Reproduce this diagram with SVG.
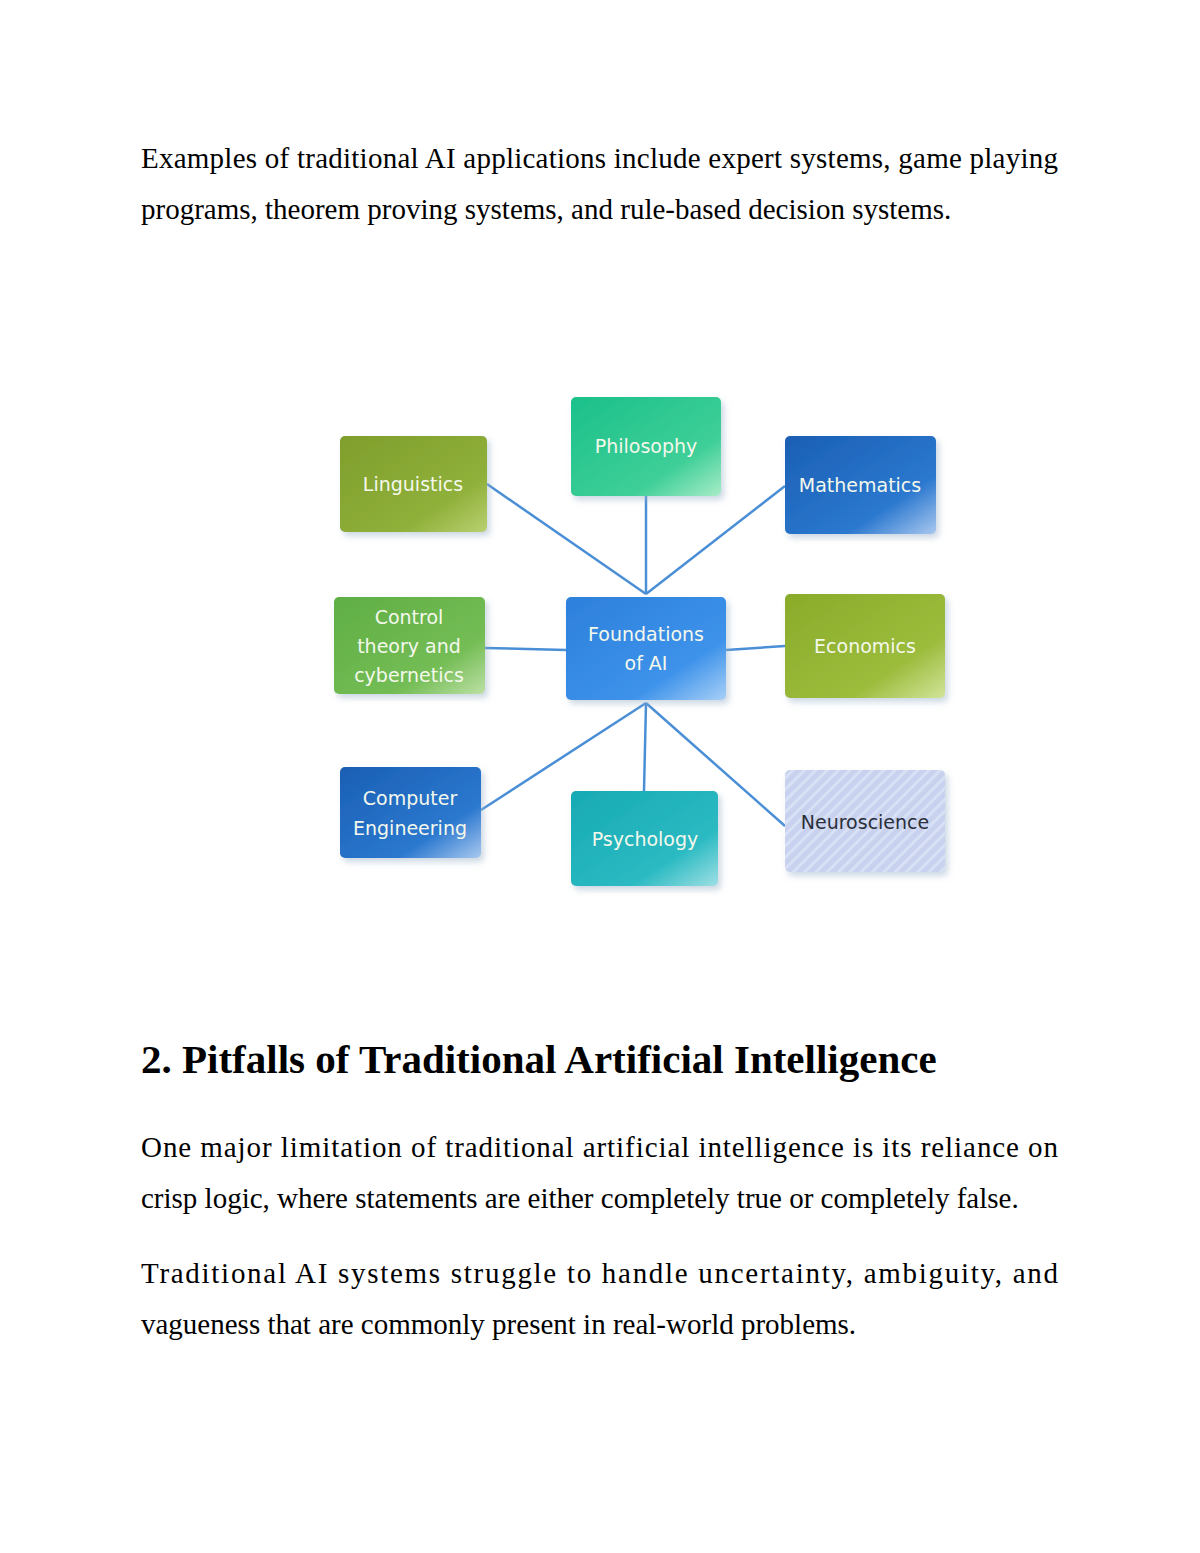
<svg xmlns="http://www.w3.org/2000/svg" width="1200" height="1553" viewBox="0 0 1200 1553">
<style>
.b{font-family:"Liberation Serif",serif;font-size:29px;fill:#000}
.h{font-family:"Liberation Serif",serif;font-size:41px;font-weight:bold;fill:#000}
.n{font-family:"DejaVu Sans",sans-serif;font-size:19px;fill:#f4f8ec;text-anchor:middle}
.c{stroke:#4a8fd6;stroke-width:2.5;fill:none}
.box{filter:url(#sh)}
</style>
<defs>
<filter id="sh" x="-10%" y="-10%" width="130%" height="130%"><feDropShadow dx="3" dy="4" stdDeviation="3" flood-color="#9ab0c8" flood-opacity="0.5"/></filter>
<linearGradient id="gOl" x1="0" y1="0" x2="1" y2="1"><stop offset="0" stop-color="#7f9e2c"/><stop offset="0.7" stop-color="#8fb03a"/><stop offset="1" stop-color="#b9d070"/></linearGradient>
<linearGradient id="gTe" x1="0" y1="0" x2="1" y2="1"><stop offset="0" stop-color="#1bc08a"/><stop offset="0.7" stop-color="#3fcf98"/><stop offset="1" stop-color="#a8ecc8"/></linearGradient>
<linearGradient id="gBl" x1="0" y1="0" x2="1" y2="1"><stop offset="0" stop-color="#1a5fb4"/><stop offset="0.7" stop-color="#2b78cf"/><stop offset="1" stop-color="#a8c8ef"/></linearGradient>
<linearGradient id="gCe" x1="0" y1="0" x2="1" y2="1"><stop offset="0" stop-color="#2d80db"/><stop offset="0.7" stop-color="#3d92ea"/><stop offset="1" stop-color="#a8d0f7"/></linearGradient>
<linearGradient id="gGr" x1="0" y1="0" x2="1" y2="1"><stop offset="0" stop-color="#5fae45"/><stop offset="0.7" stop-color="#74bd55"/><stop offset="1" stop-color="#bde0a6"/></linearGradient>
<linearGradient id="gCy" x1="0" y1="0" x2="1" y2="1"><stop offset="0" stop-color="#17aab4"/><stop offset="0.7" stop-color="#2bbac2"/><stop offset="1" stop-color="#9ee0e4"/></linearGradient>
<linearGradient id="gEc" x1="0" y1="0" x2="1" y2="1"><stop offset="0" stop-color="#8aab2a"/><stop offset="0.7" stop-color="#9cbc3c"/><stop offset="1" stop-color="#d2e49a"/></linearGradient>
<pattern id="stripe" width="8" height="8" patternUnits="userSpaceOnUse" patternTransform="rotate(45)"><rect width="8" height="8" fill="#c8d2ee"/><rect width="3" height="8" fill="#d8e0f6"/></pattern>
</defs>

<text class="b" x="141" y="168" textLength="917" lengthAdjust="spacing">Examples of traditional AI applications include expert systems, game playing</text>
<text class="b" x="141" y="219">programs, theorem proving systems, and rule-based decision systems.</text>

<g id="connectors">
<line class="c" x1="487" y1="484" x2="646" y2="594"/>
<line class="c" x1="646" y1="496" x2="646" y2="594"/>
<line class="c" x1="785" y1="486" x2="646" y2="594"/>
<line class="c" x1="485" y1="648" x2="566" y2="650"/>
<line class="c" x1="726" y1="650" x2="785" y2="646"/>
<line class="c" x1="646" y1="703" x2="481" y2="810"/>
<line class="c" x1="646" y1="703" x2="644" y2="791"/>
<line class="c" x1="646" y1="703" x2="785" y2="826"/>
</g>

<g id="linguistics"><rect class="box" x="340" y="436" width="147" height="96" rx="5" fill="url(#gOl)"/><text class="n" x="413" y="491">Linguistics</text></g>
<g id="philosophy"><rect class="box" x="571" y="397" width="150" height="99" rx="5" fill="url(#gTe)"/><text class="n" x="646" y="453">Philosophy</text></g>
<g id="mathematics"><rect class="box" x="785" y="436" width="151" height="98" rx="5" fill="url(#gBl)"/><text class="n" x="860" y="492">Mathematics</text></g>
<g id="control"><rect class="box" x="334" y="597" width="151" height="97" rx="5" fill="url(#gGr)"/><text class="n" x="409" y="624">Control</text><text class="n" x="409" y="653">theory and</text><text class="n" x="409" y="682">cybernetics</text></g>
<g id="foundations"><rect class="box" x="566" y="597" width="160" height="103" rx="5" fill="url(#gCe)"/><text class="n" x="646" y="641">Foundations</text><text class="n" x="646" y="670">of AI</text></g>
<g id="economics"><rect class="box" x="785" y="594" width="160" height="104" rx="5" fill="url(#gEc)"/><text class="n" x="865" y="653">Economics</text></g>
<g id="computer"><rect class="box" x="340" y="767" width="141" height="91" rx="5" fill="url(#gBl)"/><text class="n" x="410" y="805">Computer</text><text class="n" x="410" y="835">Engineering</text></g>
<g id="psychology"><rect class="box" x="571" y="791" width="147" height="95" rx="5" fill="url(#gCy)"/><text class="n" x="645" y="846">Psychology</text></g>
<g id="neuroscience"><rect class="box" x="785" y="770" width="160" height="102" rx="5" fill="url(#stripe)"/><text class="n" x="865" y="829" style="fill:#2a2f3a">Neuroscience</text></g>

<text class="h" x="141" y="1073">2. Pitfalls of Traditional Artificial Intelligence</text>
<text class="b" x="141" y="1157" textLength="917" lengthAdjust="spacing">One major limitation of traditional artificial intelligence is its reliance on</text>
<text class="b" x="141" y="1208">crisp logic, where statements are either completely true or completely false.</text>
<text class="b" x="141" y="1283" textLength="917" lengthAdjust="spacing">Traditional AI systems struggle to handle uncertainty, ambiguity, and</text>
<text class="b" x="141" y="1334">vagueness that are commonly present in real-world problems.</text>
</svg>
